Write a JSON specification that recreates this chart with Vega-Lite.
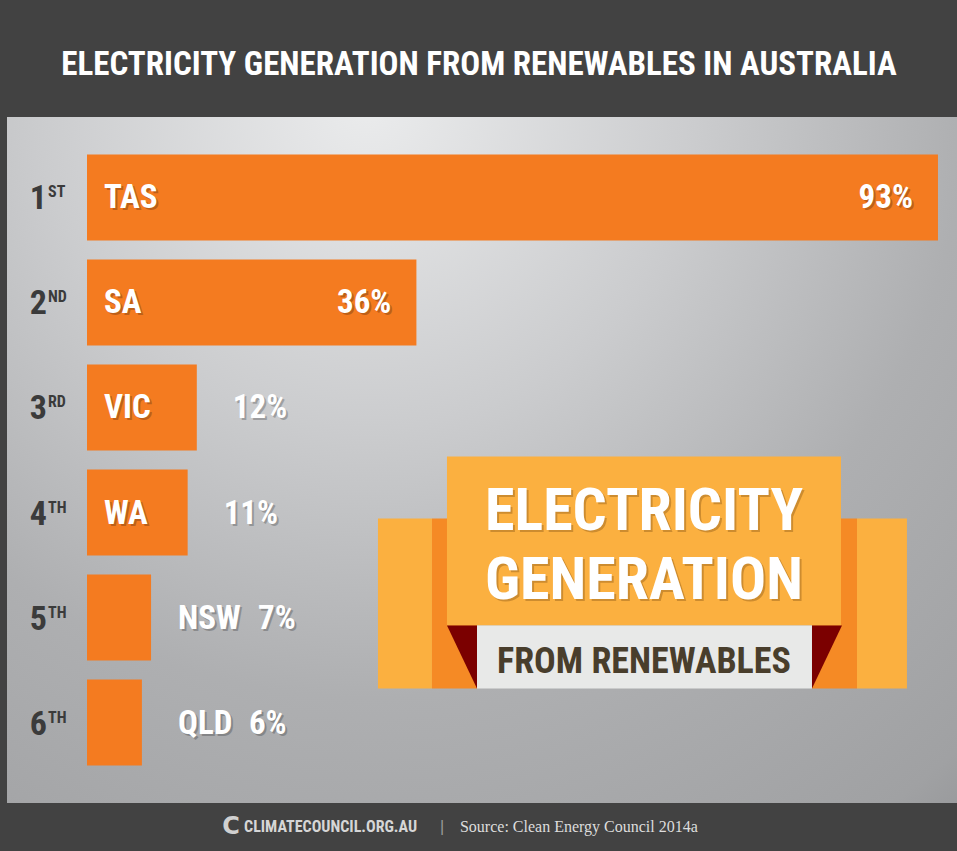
{
  "$schema": "https://vega.github.io/schema/vega-lite/v6.json",
  "width": 950,
  "height": 686,
  "autosize": {"type": "none"},
  "padding": {"left": 7, "top": 117, "right": 0, "bottom": 48},
  "background": "#424242",
  "view": {
    "stroke": null,
    "fill": {
      "gradient": "radial",
      "x1": 0.38, "y1": 0.12, "r1": 0,
      "x2": 0.38, "y2": 0.12, "r2": 1.05,
      "stops": [
        {"offset": 0, "color": "#EBECED"},
        {"offset": 0.33, "color": "#CBCCCE"},
        {"offset": 0.6, "color": "#AEAFB1"},
        {"offset": 0.88, "color": "#A0A1A3"},
        {"offset": 1, "color": "#8E8F92"}
      ]
    }
  },
  "title": {
    "text": "ELECTRICITY GENERATION FROM RENEWABLES IN AUSTRALIA",
    "anchor": "middle",
    "frame": "group",
    "orient": "top",
    "offset": 9,
    "dx": -3,
    "baseline": "alphabetic",
    "color": "#FFFFFF",
    "font": "Liberation Sans Narrow, Roboto Condensed, DejaVu Sans Condensed, Roboto, sans-serif",
    "fontSize": 33,
    "fontWeight": "bold"
  },
  "data": {
    "values": [
      {"rank": "1", "suffix": "ST", "state": "TAS", "value": 0.93},
      {"rank": "2", "suffix": "ND", "state": "SA", "value": 0.36},
      {"rank": "3", "suffix": "RD", "state": "VIC", "value": 0.12},
      {"rank": "4", "suffix": "TH", "state": "WA", "value": 0.11},
      {"rank": "5", "suffix": "TH", "state": "NSW", "value": 0.07},
      {"rank": "6", "suffix": "TH", "state": "QLD", "value": 0.06}
    ]
  },
  "layer": [
    {
      "mark": {"type": "bar", "color": "#F47B20"},
      "encoding": {
        "y": {"field": "rank", "type": "ordinal", "scale": {"paddingInner": 0.181, "paddingOuter": 0.357}, "axis": null},
        "x": {"field": "value", "type": "quantitative", "scale": {"domain": [-0.08743, 0.9508], "nice": false, "zero": false}, "axis": null},
        "x2": {"datum": 0}
      }
    },
    {
      "mark": {"type": "text", "align": "right", "baseline": "alphabetic", "dx": -40, "dy": 12, "fontSize": 34, "fontWeight": "bold", "color": "#3B3B3B", "font": "Liberation Sans Narrow, Roboto Condensed, DejaVu Sans Condensed, Roboto, sans-serif"},
      "encoding": {
        "y": {"field": "rank", "type": "ordinal"},
        "x": {"datum": 0, "type": "quantitative"},
        "text": {"field": "rank"}
      }
    },
    {
      "mark": {"type": "text", "align": "left", "baseline": "alphabetic", "dx": -39, "dy": 0, "fontSize": 16, "fontWeight": "bold", "color": "#3B3B3B", "font": "Liberation Sans Narrow, Roboto Condensed, DejaVu Sans Condensed, Roboto, sans-serif"},
      "encoding": {
        "y": {"field": "rank", "type": "ordinal"},
        "x": {"datum": 0, "type": "quantitative"},
        "text": {"field": "suffix"}
      }
    },
    {
      "transform": [{"filter": "datum.value >= 0.1"}],
      "mark": {"type": "text", "align": "left", "baseline": "alphabetic", "dx": 19, "dy": 13, "fontSize": 33, "fontWeight": "bold", "color": "#000000", "opacity": 0.22, "font": "Liberation Sans Narrow, Roboto Condensed, DejaVu Sans Condensed, Roboto, sans-serif"},
      "encoding": {
        "y": {"field": "rank", "type": "ordinal"},
        "x": {"datum": 0, "type": "quantitative"},
        "text": {"field": "state"}
      }
    },
    {
      "transform": [{"filter": "datum.value >= 0.1"}],
      "mark": {"type": "text", "align": "left", "baseline": "alphabetic", "dx": 17, "dy": 11, "fontSize": 33, "fontWeight": "bold", "color": "#FFFFFF", "font": "Liberation Sans Narrow, Roboto Condensed, DejaVu Sans Condensed, Roboto, sans-serif"},
      "encoding": {
        "y": {"field": "rank", "type": "ordinal"},
        "x": {"datum": 0, "type": "quantitative"},
        "text": {"field": "state"}
      }
    },
    {
      "transform": [{"filter": "datum.value < 0.1"}],
      "mark": {"type": "text", "align": "left", "baseline": "alphabetic", "dx": 93, "dy": 13, "fontSize": 33, "fontWeight": "bold", "color": "#000000", "opacity": 0.22, "font": "Liberation Sans Narrow, Roboto Condensed, DejaVu Sans Condensed, Roboto, sans-serif"},
      "encoding": {
        "y": {"field": "rank", "type": "ordinal"},
        "x": {"datum": 0, "type": "quantitative"},
        "text": {"field": "state"}
      }
    },
    {
      "transform": [{"filter": "datum.value < 0.1"}],
      "mark": {"type": "text", "align": "left", "baseline": "alphabetic", "dx": 91, "dy": 11, "fontSize": 33, "fontWeight": "bold", "color": "#FFFFFF", "font": "Liberation Sans Narrow, Roboto Condensed, DejaVu Sans Condensed, Roboto, sans-serif"},
      "encoding": {
        "y": {"field": "rank", "type": "ordinal"},
        "x": {"datum": 0, "type": "quantitative"},
        "text": {"field": "state"}
      }
    },
    {
      "transform": [{"filter": "datum.value >= 0.3"}],
      "mark": {"type": "text", "align": "right", "baseline": "alphabetic", "dx": -23, "dy": 13, "fontSize": 33, "fontWeight": "bold", "color": "#000000", "opacity": 0.22, "font": "Liberation Sans Narrow, Roboto Condensed, DejaVu Sans Condensed, Roboto, sans-serif"},
      "encoding": {
        "y": {"field": "rank", "type": "ordinal"},
        "x": {"field": "value", "type": "quantitative"},
        "text": {"field": "value", "type": "quantitative", "format": ".0%"}
      }
    },
    {
      "transform": [{"filter": "datum.value >= 0.3"}],
      "mark": {"type": "text", "align": "right", "baseline": "alphabetic", "dx": -25, "dy": 11, "fontSize": 33, "fontWeight": "bold", "color": "#FFFFFF", "font": "Liberation Sans Narrow, Roboto Condensed, DejaVu Sans Condensed, Roboto, sans-serif"},
      "encoding": {
        "y": {"field": "rank", "type": "ordinal"},
        "x": {"field": "value", "type": "quantitative"},
        "text": {"field": "value", "type": "quantitative", "format": ".0%"}
      }
    },
    {
      "transform": [{"filter": "datum.value >= 0.1 && datum.value < 0.3"}],
      "mark": {"type": "text", "align": "left", "baseline": "alphabetic", "dx": 38, "dy": 13, "fontSize": 33, "fontWeight": "bold", "color": "#000000", "opacity": 0.22, "font": "Liberation Sans Narrow, Roboto Condensed, DejaVu Sans Condensed, Roboto, sans-serif"},
      "encoding": {
        "y": {"field": "rank", "type": "ordinal"},
        "x": {"field": "value", "type": "quantitative"},
        "text": {"field": "value", "type": "quantitative", "format": ".0%"}
      }
    },
    {
      "transform": [{"filter": "datum.value >= 0.1 && datum.value < 0.3"}],
      "mark": {"type": "text", "align": "left", "baseline": "alphabetic", "dx": 36, "dy": 11, "fontSize": 33, "fontWeight": "bold", "color": "#FFFFFF", "font": "Liberation Sans Narrow, Roboto Condensed, DejaVu Sans Condensed, Roboto, sans-serif"},
      "encoding": {
        "y": {"field": "rank", "type": "ordinal"},
        "x": {"field": "value", "type": "quantitative"},
        "text": {"field": "value", "type": "quantitative", "format": ".0%"}
      }
    },
    {
      "transform": [{"filter": "datum.value < 0.1"}],
      "mark": {"type": "text", "align": "left", "baseline": "alphabetic", "dx": 109, "dy": 13, "fontSize": 33, "fontWeight": "bold", "color": "#000000", "opacity": 0.22, "font": "Liberation Sans Narrow, Roboto Condensed, DejaVu Sans Condensed, Roboto, sans-serif"},
      "encoding": {
        "y": {"field": "rank", "type": "ordinal"},
        "x": {"field": "value", "type": "quantitative"},
        "text": {"field": "value", "type": "quantitative", "format": ".0%"}
      }
    },
    {
      "transform": [{"filter": "datum.value < 0.1"}],
      "mark": {"type": "text", "align": "left", "baseline": "alphabetic", "dx": 107, "dy": 11, "fontSize": 33, "fontWeight": "bold", "color": "#FFFFFF", "font": "Liberation Sans Narrow, Roboto Condensed, DejaVu Sans Condensed, Roboto, sans-serif"},
      "encoding": {
        "y": {"field": "rank", "type": "ordinal"},
        "x": {"field": "value", "type": "quantitative"},
        "text": {"field": "value", "type": "quantitative", "format": ".0%"}
      }
    },
    {
      "data": {"values": [{}]},
      "mark": {"type": "rect", "color": "#FBB040"},
      "encoding": {
        "x": {"datum": 0.3180, "type": "quantitative"},
        "x2": {"datum": 0.3770},
        "y": {"datum": "4", "type": "ordinal", "bandPosition": 0.57},
        "y2": {"datum": "6", "bandPosition": 0.105}
      }
    },
    {
      "data": {"values": [{}]},
      "mark": {"type": "rect", "color": "#F58A25"},
      "encoding": {
        "x": {"datum": 0.3770, "type": "quantitative"},
        "x2": {"datum": 0.4262},
        "y": {"datum": "4", "type": "ordinal", "bandPosition": 0.57},
        "y2": {"datum": "6", "bandPosition": 0.105}
      }
    },
    {
      "data": {"values": [{}]},
      "mark": {"type": "rect", "color": "#F58A25"},
      "encoding": {
        "x": {"datum": 0.7923, "type": "quantitative"},
        "x2": {"datum": 0.8415},
        "y": {"datum": "4", "type": "ordinal", "bandPosition": 0.57},
        "y2": {"datum": "6", "bandPosition": 0.105}
      }
    },
    {
      "data": {"values": [{}]},
      "mark": {"type": "rect", "color": "#FBB040"},
      "encoding": {
        "x": {"datum": 0.8415, "type": "quantitative"},
        "x2": {"datum": 0.8961},
        "y": {"datum": "4", "type": "ordinal", "bandPosition": 0.57},
        "y2": {"datum": "6", "bandPosition": 0.105}
      }
    },
    {
      "data": {"values": [{}]},
      "mark": {"type": "rect", "color": "#FBB040"},
      "encoding": {
        "x": {"datum": 0.3934, "type": "quantitative"},
        "x2": {"datum": 0.8240},
        "y": {"datum": "4", "type": "ordinal", "bandPosition": -0.151},
        "y2": {"datum": "5", "bandPosition": 0.593}
      }
    },
    {
      "data": {"values": [{}]},
      "mark": {"type": "rect", "color": "#E8E9E8"},
      "encoding": {
        "x": {"datum": 0.4262, "type": "quantitative"},
        "x2": {"datum": 0.7923},
        "y": {"datum": "5", "type": "ordinal", "bandPosition": 0.593},
        "y2": {"datum": "6", "bandPosition": 0.105}
      }
    },
    {
      "data": {"values": [{}]},
      "mark": {"type": "point", "shape": "M-1,0L0,0L0,2.1Z", "size": 3600, "filled": true, "opacity": 1, "color": "#7B0000", "strokeWidth": 0},
      "encoding": {
        "x": {"datum": 0.4262, "type": "quantitative"},
        "y": {"datum": "5", "type": "ordinal", "bandPosition": 0.593}
      }
    },
    {
      "data": {"values": [{}]},
      "mark": {"type": "point", "shape": "M0,0L1,0L0,2.1Z", "size": 3600, "filled": true, "opacity": 1, "color": "#7B0000", "strokeWidth": 0},
      "encoding": {
        "x": {"datum": 0.7923, "type": "quantitative"},
        "y": {"datum": "5", "type": "ordinal", "bandPosition": 0.593}
      }
    },
    {
      "data": {"values": [{}]},
      "mark": {"type": "text", "align": "center", "baseline": "alphabetic", "dx": 2, "dy": 2, "fontSize": 60, "fontWeight": "bold", "color": "#7A4A10", "opacity": 0.35, "font": "Liberation Sans Narrow, Roboto Condensed, DejaVu Sans Condensed, Roboto, sans-serif"},
      "encoding": {
        "x": {"datum": 0.6087, "type": "quantitative"},
        "y": {"datum": "4", "type": "ordinal", "bandPosition": 0.709},
        "text": {"value": "ELECTRICITY"}
      }
    },
    {
      "data": {"values": [{}]},
      "mark": {"type": "text", "align": "center", "baseline": "alphabetic", "fontSize": 60, "fontWeight": "bold", "color": "#FFFFFF", "font": "Liberation Sans Narrow, Roboto Condensed, DejaVu Sans Condensed, Roboto, sans-serif"},
      "encoding": {
        "x": {"datum": 0.6087, "type": "quantitative"},
        "y": {"datum": "4", "type": "ordinal", "bandPosition": 0.709},
        "text": {"value": "ELECTRICITY"}
      }
    },
    {
      "data": {"values": [{}]},
      "mark": {"type": "text", "align": "center", "baseline": "alphabetic", "dx": 2, "dy": 2, "fontSize": 60, "fontWeight": "bold", "color": "#7A4A10", "opacity": 0.35, "font": "Liberation Sans Narrow, Roboto Condensed, DejaVu Sans Condensed, Roboto, sans-serif"},
      "encoding": {
        "x": {"datum": 0.6087, "type": "quantitative"},
        "y": {"datum": "5", "type": "ordinal", "bandPosition": 0.279},
        "text": {"value": "GENERATION"}
      }
    },
    {
      "data": {"values": [{}]},
      "mark": {"type": "text", "align": "center", "baseline": "alphabetic", "fontSize": 60, "fontWeight": "bold", "color": "#FFFFFF", "font": "Liberation Sans Narrow, Roboto Condensed, DejaVu Sans Condensed, Roboto, sans-serif"},
      "encoding": {
        "x": {"datum": 0.6087, "type": "quantitative"},
        "y": {"datum": "5", "type": "ordinal", "bandPosition": 0.279},
        "text": {"value": "GENERATION"}
      }
    },
    {
      "data": {"values": [{}]},
      "mark": {"type": "text", "align": "center", "baseline": "alphabetic", "fontSize": 36, "fontWeight": "bold", "color": "#493E2C", "font": "Liberation Sans Narrow, Roboto Condensed, DejaVu Sans Condensed, Roboto, sans-serif"},
      "encoding": {
        "x": {"datum": 0.6087, "type": "quantitative"},
        "y": {"datum": "6", "type": "ordinal", "bandPosition": -0.081},
        "text": {"value": "FROM RENEWABLES"}
      }
    },
    {
      "data": {"values": [{}]},
      "mark": {"type": "text", "align": "center", "baseline": "middle", "fontSize": 24, "fontWeight": "bold", "color": "#D0D0D0", "font": "DejaVu Sans, sans-serif"},
      "encoding": {
        "x": {"datum": 0.1574, "type": "quantitative"},
        "y": {"datum": "6", "type": "ordinal", "bandPosition": 1.72},
        "text": {"value": "C"}
      }
    },
    {
      "data": {"values": [{}]},
      "mark": {"type": "text", "align": "left", "baseline": "middle", "fontSize": 16, "fontWeight": "bold", "color": "#D6D6D6", "font": "Liberation Sans Narrow, Roboto Condensed, DejaVu Sans Condensed, Roboto, sans-serif"},
      "encoding": {
        "x": {"datum": 0.1716, "type": "quantitative"},
        "y": {"datum": "6", "type": "ordinal", "bandPosition": 1.72},
        "text": {"value": "CLIMATECOUNCIL.ORG.AU"}
      }
    },
    {
      "data": {"values": [{}]},
      "mark": {"type": "text", "align": "center", "baseline": "middle", "fontSize": 16, "color": "#9A9A9A", "font": "Liberation Sans, sans-serif"},
      "encoding": {
        "x": {"datum": 0.388, "type": "quantitative"},
        "y": {"datum": "6", "type": "ordinal", "bandPosition": 1.72},
        "text": {"value": "|"}
      }
    },
    {
      "data": {"values": [{}]},
      "mark": {"type": "text", "align": "left", "baseline": "middle", "fontSize": 16, "color": "#DDDDDD", "font": "Liberation Serif, DejaVu Serif, serif"},
      "encoding": {
        "x": {"datum": 0.4076, "type": "quantitative"},
        "y": {"datum": "6", "type": "ordinal", "bandPosition": 1.72},
        "text": {"value": "Source: Clean Energy Council 2014a"}
      }
    }
  ]
}
